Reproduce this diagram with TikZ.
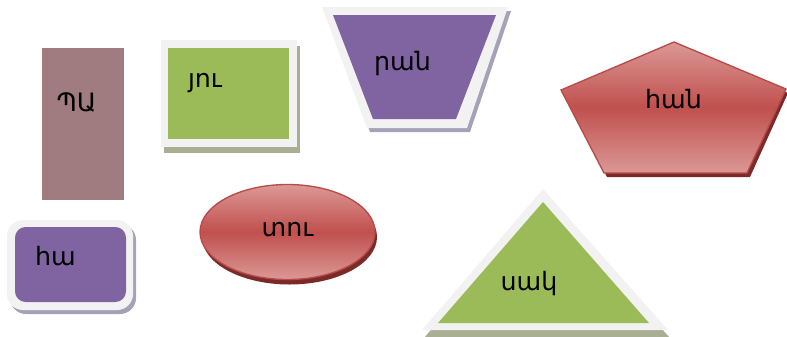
\documentclass[tikz,border=0pt]{standalone}
\usepackage{fontspec}
\newfontfamily\armfont{DejaVu Sans}
\usepackage{tikz}
\usepackage{color,xcolor}

\definecolor{mauvefill}{HTML}{A07B7F}
\definecolor{greenfill}{HTML}{9BBB59}
\definecolor{greenshade}{HTML}{A8AF92}
\definecolor{purplefill}{HTML}{8064A2}
\definecolor{purpleshade}{HTML}{A6A1B8}
\definecolor{redmid}{HTML}{C0504D}
\definecolor{redlight}{HTML}{DB9896}
\definecolor{redshade}{HTML}{7A2B29}
\definecolor{redline}{HTML}{B84A47}
\definecolor{framegray}{HTML}{F2F2F2}

\begin{document}
\begin{tikzpicture}[x=0.75pt, y=-0.75pt,
    every node/.style={inner sep=0pt, font=\armfont\fontsize{19}{22}\selectfont},
    frame/.style={fill=framegray},
    redshaded/.style={top color=redlight, bottom color=redlight, middle color=redmid, draw=redline, line width=1pt}]
            \useasboundingbox (0,0) rectangle (787,336);

            % Plain boxes
            \fill[mauvefill] (42,48) rectangle (124,200);
            \fill[greenshade] (164,46) rectangle (300,153);
            \fill[frame] (161,40) rectangle (297,147);
            \fill[greenfill] (168,48) rectangle (289,139);

            % Trapezium
            \fill[purpleshade] (325,11) -- (511,11) -- (470,132) -- (370,132) -- cycle;
            \fill[frame] (322,7) -- (508,7) -- (467,128) -- (367,128) -- cycle;
            \fill[purplefill] (333,15) -- (496,15) -- (456,119) -- (373,119) -- cycle;

            % Pentagon
            \fill[redshade] (677,46) -- (788,93) -- (750,177) -- (607,177) -- (564,94) -- cycle;
            \shade[redshaded] (674,42) -- (786,89) -- (747,173) -- (604,173) -- (561,90) -- cycle;

            % Ellipse
            \fill[redshade] (289.5,237) ellipse [x radius=87.5, y radius=47.5];
            \shade[redshaded] (287.5,232) ellipse [x radius=87.5, y radius=47.5];

            % Rounded box
            \fill[purpleshade, rounded corners=12] (10,224) rectangle (136,314);
            \fill[frame, rounded corners=12] (7,220) rectangle (133,310);
            \fill[purplefill, rounded corners=8] (15,227) rectangle (126,302);

            % Triangle
            \fill[greenshade] (545,197) -- (670,338) -- (424,338) -- cycle;
            \fill[frame] (543,189) -- (668,330) -- (422,330) -- cycle;
            \fill[greenfill] (543,202) -- (649,323) -- (438,323) -- cycle;

            % Labels
            \node (pa) at (76.5,102) {ՊԱ};
            \node (yu) at (205,83) {յու};
            \node (ran) at (402.5,63.5) {րան};
            \node (han) at (673.5,99) {հան};
            \node (tu) at (287.5,230) {տու};
            \node (ha) at (55.5,256.5) {հա};
            \node (sak) at (529,284) {սակ};
        \end{tikzpicture}
\end{document}
